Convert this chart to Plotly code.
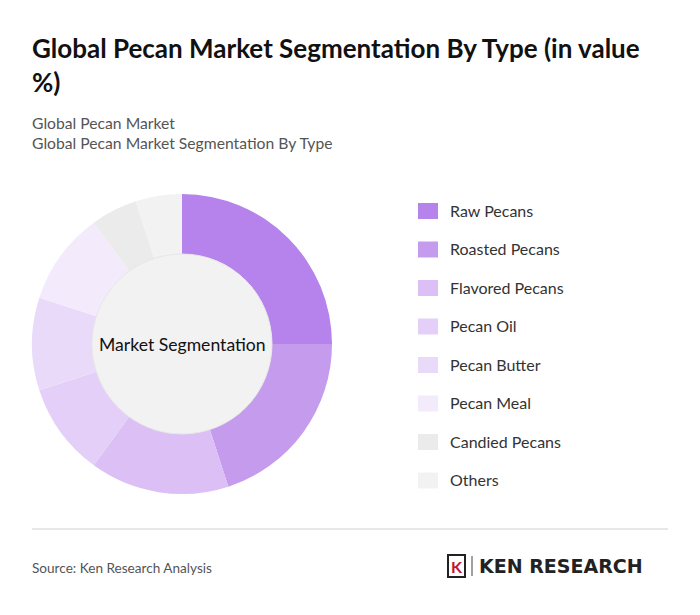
import plotly.graph_objects as go

labels = ["Raw Pecans", "Roasted Pecans", "Flavored Pecans", "Pecan Oil",
          "Pecan Butter", "Pecan Meal", "Candied Pecans", "Others"]
values = [25, 20, 15, 10, 10, 10, 5, 5]
colors = ["#b583eb", "#c59ced", "#dbbff5", "#e3cff7",
          "#e9dafa", "#f3ebfb", "#ebebeb", "#f2f2f2"]

# page body has an 8px margin, so the figure is a bit smaller and shifted
OFF = 8
W, H = 700 - 2 * OFF, 615 - 2 * OFF
FONT = "Lato, Noto Sans, sans-serif"


def px_x(x):
    return (x - OFF) / W


def px_y(y):
    return 1 - (y - OFF) / H


def note(text, x, y, size, color, xa="left", ya="middle", family=FONT, align="left"):
    return dict(text=text, x=px_x(x), y=px_y(y), xref="paper", yref="paper",
                xanchor=xa, yanchor=ya, align=align, showarrow=False,
                font=dict(family=family, size=size, color=color))


fig = go.Figure()
fig.add_trace(go.Pie(
    labels=labels, values=values, hole=0.6, sort=False, direction="clockwise",
    rotation=0, textinfo="none", hoverinfo="label+percent",
    marker=dict(colors=colors, line=dict(width=0)),
    domain=dict(x=[px_x(32), px_x(332)], y=[px_y(494), px_y(194)]),
    showlegend=False,
))

shapes = [
    dict(type="circle", xref="paper", yref="paper", layer="above",
         x0=px_x(92), x1=px_x(272), y0=px_y(434), y1=px_y(254),
         fillcolor="#f2f2f2", line=dict(color="#e6e6e6", width=1)),
    dict(type="line", xref="paper", yref="paper",
         x0=px_x(32), x1=px_x(668), y0=px_y(529), y1=px_y(529),
         line=dict(color="#d0d0d0", width=1)),
    # logo badge
    dict(type="rect", xref="paper", yref="paper",
         x0=px_x(448), x1=px_x(465), y0=px_y(577), y1=px_y(555),
         line=dict(color="#222", width=2)),
    dict(type="line", xref="paper", yref="paper",
         x0=px_x(472), x1=px_x(472), y0=px_y(576), y1=px_y(556),
         line=dict(color="#444", width=1)),
]
annotations = [
    note("Market Segmentation", 182, 344, 17.6, "#111", xa="center"),
    note("<b>Global Pecan Market Segmentation By Type (in value<br>%)</b>", 30, 30, 26, "#111", ya="top"),
    note("Global Pecan Market<br>Global Pecan Market Segmentation By Type", 30, 112, 15.7, "#555", ya="top"),
    note("Source: Ken Research Analysis", 30, 568, 13.6, "#555"),
    note("<b>K</b>", 456.5, 566, 16, "#c8102e", xa="center"),
    note("<b>KEN RESEARCH</b>", 477, 566, 19, "#222", family="DejaVu Sans"),
]

for i, (lab, col) in enumerate(zip(labels, colors)):
    yc = 210 + i * 38.5
    shapes.append(dict(type="rect", xref="paper", yref="paper",
                       x0=px_x(418), x1=px_x(438), y0=px_y(yc + 9), y1=px_y(yc - 7),
                       fillcolor=col, line=dict(width=0)))
    annotations.append(note(lab, 448, yc, 16, "#333"))

fig.update_layout(width=W, height=H, margin=dict(l=0, r=0, t=0, b=0),
                  paper_bgcolor="white", plot_bgcolor="white",
                  shapes=shapes, annotations=annotations)
fig.write_html("out.html")
